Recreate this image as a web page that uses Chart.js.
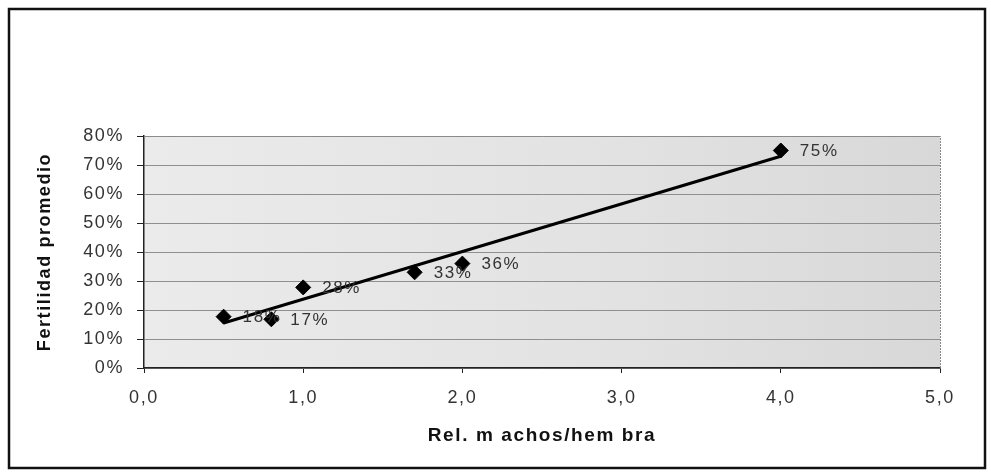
<!DOCTYPE html>
<html>
<head>
<meta charset="utf-8">
<script src="https://cdn.jsdelivr.net/npm/chart.js@4"></script>
<style>
  html, body { margin: 0; padding: 0; background: #fff; }
  canvas { display: block; }
</style>
</head>
<body>
<canvas id="fertChart" width="991" height="473"></canvas>
<script>
// data
const ratio = [0.5, 0.8, 1.0, 1.7, 2.0, 4.0];
const fertility = [17.7, 16.8, 27.8, 33, 36, 75];
const pointLabels = ["18%", "17%", "28%", "33%", "36%", "75%"];
const trendX = [0.5, 4.0];
const trendY = [15.5, 73];
const xTickLabels = ["0,0", "1,0", "2,0", "3,0", "4,0", "5,0"];
const yTickLabels = ["0%", "10%", "20%", "30%", "40%", "50%", "60%", "70%", "80%"];

const FONT = "'Liberation Sans', Arial, sans-serif";
Chart.defaults.font.family = FONT;
Chart.defaults.color = "#333";

const spacing = {
  id: "spacing",
  beforeUpdate(chart) { chart.ctx.letterSpacing = "1.6px"; },
  beforeDraw(chart) {
    const ctx = chart.ctx;
    ctx.letterSpacing = "1.6px";
    const a = chart.chartArea;
    ctx.save();
    ctx.fillStyle = "#fff";
    ctx.fillRect(0, 0, chart.width, chart.height);
    const g = ctx.createLinearGradient(a.left, 0, a.right, 0);
    g.addColorStop(0, "#ebebeb");
    g.addColorStop(0.6, "#e2e2e2");
    g.addColorStop(1, "#d8d8d8");
    ctx.fillStyle = g;
    ctx.fillRect(a.left, a.top, a.right - a.left, a.bottom - a.top);
    // outer frame
    ctx.strokeStyle = "#111";
    ctx.lineWidth = 2.5;
    ctx.strokeRect(9, 9, 976, 459);
    ctx.restore();
  },
  afterDraw(chart) {
    const ctx = chart.ctx;
    const a = chart.chartArea;
    ctx.save();
    ctx.strokeStyle = "#888";
    ctx.lineWidth = 1;
    ctx.setLineDash([2, 1]);
    ctx.beginPath();
    ctx.moveTo(a.left, a.top + 0.5);
    ctx.lineTo(a.right + 0.5, a.top + 0.5);
    ctx.lineTo(a.right + 0.5, a.bottom);
    ctx.stroke();
    ctx.restore();
  },
  afterDatasetsDraw(chart) {
    const ctx = chart.ctx;
    const meta = chart.getDatasetMeta(1);
    ctx.save();
    ctx.letterSpacing = "1.6px";
    ctx.font = "17px " + FONT;
    ctx.fillStyle = "#333";
    ctx.textAlign = "left";
    ctx.textBaseline = "middle";
    meta.data.forEach((pt, i) => {
      ctx.fillText(pointLabels[i], pt.x + 19, pt.y + 1);
    });
    ctx.restore();
  }
};

new Chart(document.getElementById("fertChart"), {
  type: "scatter",
  data: {
    datasets: [
      {
        type: "line",
        label: "Tendencia",
        data: trendX.map((x, i) => ({ x: x, y: trendY[i] })),
        borderColor: "#000",
        borderWidth: 3,
        pointRadius: 0,
        fill: false,
        order: 0
      },
      {
        label: "Fertilidad",
        data: ratio.map((x, i) => ({ x: x, y: fertility[i] })),
        backgroundColor: "#000",
        borderColor: "#000",
        pointStyle: "rectRot",
        pointRadius: 7.5,
        order: 1
      }
    ]
  },
  options: {
    responsive: false,
    animation: false,
    layout: { padding: { left: 20, top: 136, right: 51, bottom: 20 } },
    plugins: {
      legend: { display: false },
      tooltip: { enabled: false }
    },
    scales: {
      x: {
        type: "linear",
        min: 0,
        max: 5,
        afterFit(scale) { scale.height = 85; },
        ticks: {
          stepSize: 1,
          padding: 14,
          maxRotation: 0,
          font: { size: 18 },
          color: "#333",
          callback: (v) => xTickLabels[Math.round(v)]
        },
        grid: { drawOnChartArea: false, drawTicks: true, tickLength: 5, tickColor: "#222" },
        border: { color: "#222", width: 1.5 },
        title: {
          display: true,
          text: "Rel. m achos/hem bra",
          font: { size: 19, weight: "bold" },
          color: "#111",
          padding: { top: 0, bottom: 6 }
        }
      },
      y: {
        min: 0,
        max: 80,
        afterFit(scale) { scale.width = 124; },
        ticks: {
          stepSize: 10,
          padding: 13,
          font: { size: 18 },
          color: "#333",
          callback: (v) => yTickLabels[Math.round(v / 10)]
        },
        grid: { color: "#8f8f8f", lineWidth: 1, tickLength: 7, tickColor: "#222" },
        border: { color: "#222", width: 1.5 },
        title: {
          display: true,
          text: "Fertilidad promedio",
          font: { size: 18, weight: "bold" },
          color: "#111",
          padding: { top: 14, bottom: 0 }
        }
      }
    }
  },
  plugins: [spacing]
});
</script>
</body>
</html>
